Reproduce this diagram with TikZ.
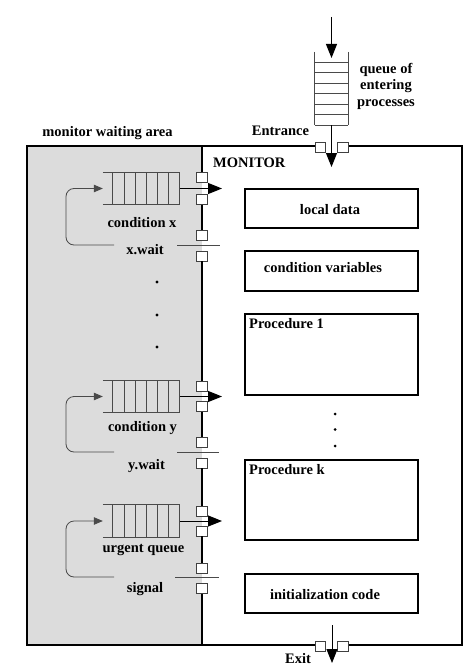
\documentclass[tikz,border=0pt]{standalone}
\usepackage{fontspec}
\setmainfont{Liberation Serif}
\usetikzlibrary{arrows.meta}
\definecolor{waitgray}{HTML}{DCDCDC}
\definecolor{qgray}{HTML}{4A4A4A}
\newcommand\condqueue[2]{%
  \node[qbox] (#1) at (141.5,#2) {};
  \draw[qline] (#1.north west) -- (#1.north east) (#1.south west) -- (#1.south east);
  \foreach \k in {0,...,6}{\draw[qline] ([xshift={10bp+\k*11.17bp}]#1.north west) -- ([xshift={10bp+\k*11.17bp}]#1.south west);}
}
\begin{document}
\begin{tikzpicture}[x=1bp,y=-1bp,
  lbl/.style={font=\fontsize{14.5bp}{16.5bp}\selectfont\bfseries, inner sep=0pt},
  box/.style={draw, line width=2.6bp, fill=white, inner sep=0pt, minimum width=173bp},
  outer/.style={line width=2.2bp, line join=miter},
  divline/.style={line width=1.3bp},
  gate/.style={draw=black!75, fill=white, line width=0.8bp, minimum width=10.5bp, minimum height=10bp, inner sep=0pt},
  qbox/.style={minimum width=77bp, minimum height=32bp, inner sep=0pt},
  qline/.style={draw=qgray, line width=0.8bp},
  bigarrow/.style={-{Triangle[length=14bp,width=11bp]}, line width=1bp},
  looparrow/.style={draw=qgray, -{Triangle[length=9bp,width=7.5bp]}, line width=0.8bp, rounded corners=8bp},
  dotmark/.style={circle, fill=black, inner sep=0pt, minimum size=3.4bp},
]
\useasboundingbox (0,0) rectangle (474,667);

% waiting area
\fill[waitgray] (27,146) rectangle (202,645);

% outer monitor box
\coordinate (entL) at (315,146); \coordinate (entR) at (348,146);
\coordinate (exL) at (315,645);  \coordinate (exR) at (348,645);
\draw[outer] (entL) -- (27,146) -- (27,645) -- (exL);
\draw[outer] (exR) -- (462,645) -- (462,146) -- (entR);

% entrance queue
\node[minimum width=33bp, minimum height=73bp, inner sep=0pt] (eq) at (331.5,88.5) {};
\draw[qline] (eq.north west) -- (eq.south west) (eq.north east) -- (eq.south east);
\foreach \k in {0,...,6}{\draw[qline] ([yshift={\k*10.5bp}]eq.south west) -- ([yshift={\k*10.5bp}]eq.south east);}
\coordinate (inTop) at (331.5,17); \coordinate (inTip) at (331.5,58);
\draw[bigarrow] (inTop) -- (inTip);
\node[gate] (ge1) at (320.3,147) {};
\node[gate] (ge2) at (343,147) {};
\coordinate (entTip) at (331.5,167);
\draw[bigarrow] (eq.south) -- (entTip);

% exit
\node[gate] (gx1) at (320.3,646) {};
\node[gate] (gx2) at (343,646) {};
\coordinate (exStart) at (332,625); \coordinate (exTip) at (332,663);
\draw[bigarrow] (exStart) -- (exTip);

% gates on the divider
\node[gate] (g1) at (202,177) {};
\node[gate] (g2) at (202,199.5) {};
\node[gate] (g3) at (202,235) {};
\node[gate] (g4) at (202,256) {};
\node[gate] (g5) at (202,386.5) {};
\node[gate] (g6) at (202,406.5) {};
\node[gate] (g7) at (202,442.5) {};
\node[gate] (g8) at (202,463) {};
\node[gate] (g9) at (202,511) {};
\node[gate] (g10) at (202,531) {};
\node[gate] (g11) at (202,568) {};
\node[gate] (g12) at (202,588.5) {};
\coordinate (divTop) at (202,146); \coordinate (divBot) at (202,645);
\draw[divline] (divTop) -- (g1.north);
\draw[divline] (g2.south) -- (g3.north);
\draw[divline] (g4.south) -- (g5.north);
\draw[divline] (g6.south) -- (g7.north);
\draw[divline] (g8.south) -- (g9.north);
\draw[divline] (g10.south) -- (g11.north);
\draw[divline] (g12.south) -- (divBot);

% condition queues
\condqueue{qx}{188.5}
\condqueue{qy}{396.5}
\condqueue{qu}{521}

\coordinate (qxTip) at (222,188.5);
\coordinate (qyTip) at (222,396.5);
\coordinate (quTip) at (222,521);
\draw[bigarrow] (qx.east) -- (qxTip);
\draw[bigarrow] (qy.east) -- (qyTip);
\draw[bigarrow] (qu.east) -- (quTip);

% wait / signal lines and loops
\coordinate (xwL) at (114,245); \coordinate (xwR1) at (177,245); \coordinate (xwR2) at (220,245);
\coordinate (ywL) at (114,452); \coordinate (ywR1) at (177,452); \coordinate (ywR2) at (219,452);
\coordinate (sgL) at (114,577); \coordinate (sgR1) at (175,577); \coordinate (sgR2) at (219,577);
\draw[looparrow] (xwL) -- (66,245) -- (66,188.5) -- (qx.west);
\draw[looparrow] (ywL) -- (66,452) -- (66,396.5) -- (qy.west);
\draw[looparrow] (sgL) -- (66,577) -- (66,521) -- (qu.west);
\draw[qline] (xwR1) -- (xwR2);
\draw[qline] (ywR1) -- (ywR2);
\draw[qline] (sgR1) -- (sgR2);

% left labels
\node[lbl] (lcx) at (142,223) {condition x};
\node[lbl] (lxw) at (145,250) {x.wait};
\node[lbl] (lcy) at (142.5,428) {condition y};
\node[lbl] (lyw) at (146.5,466) {y.wait};
\node[lbl] (luq) at (143.5,550) {urgent queue};
\node[lbl] (lsg) at (145,589) {signal};

% dots
\node[dotmark] (d1) at (157,282) {};
\node[dotmark] (d2) at (157,315) {};
\node[dotmark] (d3) at (157,347) {};
\node[dotmark, minimum size=3bp] (d4) at (335,414) {};
\node[dotmark, minimum size=3bp] (d5) at (335,429.5) {};
\node[dotmark, minimum size=3bp] (d6) at (335,446) {};

% monitor boxes
\node[box, minimum height=39bp] (local) at (331.5,208.5) {};
\node[box, minimum height=40bp] (condvar) at (331.5,271) {};
\node[box, minimum height=81bp] (proc1) at (331.5,354.5) {};
\node[box, minimum height=80bp] (prock) at (331.5,500) {};
\node[box, minimum height=39bp] (init) at (331.5,593.5) {};
\node[lbl] (tlocal) at (330,210) {local data};
\node[lbl] (tcond) at (323,268) {condition variables};
\node[lbl, anchor=base west] (tp1) at (249,328) {Procedure 1};
\node[lbl, anchor=base west] (tpk) at (249,474) {Procedure k};
\node[lbl] (tinit) at (325,595) {initialization code};

% top labels
\node[lbl, align=center] (qlab) at (386,86) {queue of\\entering\\processes};
\node[lbl] (entr) at (280.5,131) {Entrance};
\node[lbl] (mwa) at (107.5,133) {monitor waiting area};
\node[lbl, anchor=west] (mon) at (213,163) {MONITOR};
\node[lbl] (exit) at (298,659) {Exit};
\end{tikzpicture}
\end{document}
